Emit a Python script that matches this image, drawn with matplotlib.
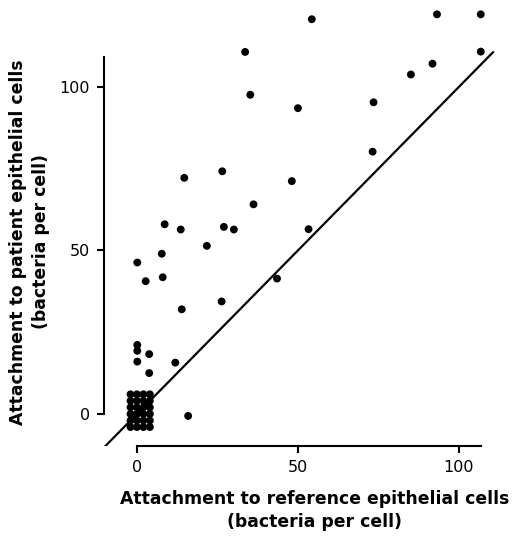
import matplotlib
matplotlib.use("Agg")
import matplotlib.pyplot as plt

# attachment to reference cells (x) vs patient cells (y), bacteria per cell
ref_cells = [54.3, 93.2, 106.8, 106.8, 33.6, 35.2, 91.8, 85.1, 73.5, 50.0,
             73.2, 26.5, 14.7, 48.1, 36.2, 8.6, 13.6, 27.0, 30.1, 53.3,
             21.7, 7.7, 0.1, 2.7, 8.0, 43.5, 13.9, 26.3,
             0.1, 0.1, 0.1, 3.8, 3.8, 11.9, 15.9]
patient_cells = [120.7, 122.2, 122.2, 110.8, 110.7, 97.6, 107.1, 103.8, 95.3, 93.5,
                 80.2, 74.2, 72.2, 71.2, 64.1, 58.0, 56.4, 57.2, 56.4, 56.5,
                 51.4, 49.0, 46.3, 40.6, 41.8, 41.4, 32.0, 34.4,
                 21.1, 19.3, 16.0, 18.3, 12.5, 15.7, -0.6]

# tight cluster of strains near zero
cluster_x = [-2, 0, 2, 4] * 6
cluster_y = [6]*4 + [4]*4 + [2]*4 + [0]*4 + [-2]*4 + [-4]*4

identity = [-10.6, 110.6]

xticks = [0, 50, 100]
yticks = [0, 50, 100]

plt.rcParams['font.family'] = ['DejaVu Sans']

fig = plt.figure(figsize=(5.14, 5.38), dpi=100)
ax = fig.add_axes([0.2023, 0.171, 0.770, 0.820])

ax.scatter(ref_cells, patient_cells, s=32, color='black', edgecolors='none', zorder=3)
ax.scatter(cluster_x, cluster_y, s=32, color='black', edgecolors='none', zorder=3)
ax.plot(identity, identity, '-k', linewidth=1.6, zorder=2)

ax.set_xlim(-10.25, 112.7)
ax.set_ylim(-9.8, 125.1)

for s in ['top', 'right']:
    ax.spines[s].set_visible(False)
ax.spines['left'].set_bounds(0, 109)
ax.spines['bottom'].set_bounds(0, 107)
ax.spines['left'].set_linewidth(1.5)
ax.spines['bottom'].set_linewidth(1.5)

ax.set_xticks(xticks)
ax.set_yticks(yticks)
ax.tick_params(direction='out', length=5, width=1.5, labelsize=11.5, pad=5)

ax.set_xlabel('Attachment to reference epithelial cells\n(bacteria per cell)',
              fontsize=12.4, fontweight='bold', linespacing=1.35)
ax.set_ylabel('Attachment to patient epithelial cells\n(bacteria per cell)',
              fontsize=12.4, fontweight='bold', linespacing=1.35)
ax.xaxis.set_label_coords(0.533, -0.1)
ax.yaxis.set_label_coords(-0.136, 0.463)

fig.savefig('out.png', dpi=100)
